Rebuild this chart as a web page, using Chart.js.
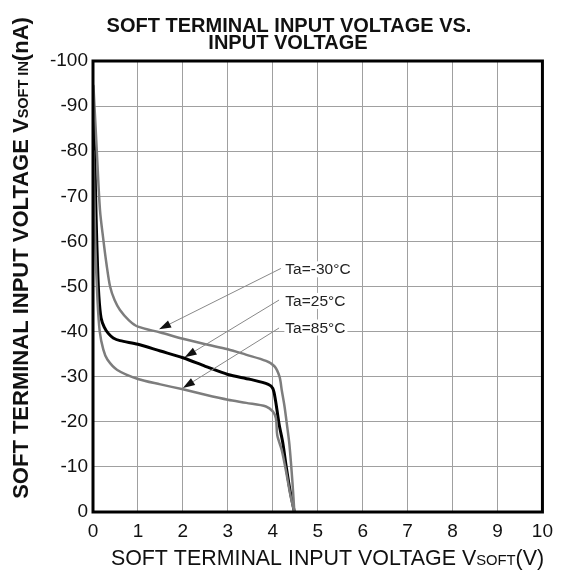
<!DOCTYPE html>
<html>
<head>
<meta charset="utf-8">
<script src="https://cdn.jsdelivr.net/npm/chart.js@4.4.0/dist/chart.umd.min.js"></script>
<style>
html, body { margin: 0; padding: 0; background: #fff; }
#wrap { width: 561px; height: 577px; }
</style>
</head>
<body>
<div id="wrap"><canvas id="softChart" width="561" height="577"></canvas></div>
<script>
// curves (x in V, y in nA)
const coldX = [0.01, 0.08, 0.155, 0.23, 0.3, 0.38, 0.48, 0.6, 0.8, 1.0, 1.5, 2.0, 2.5, 3.0, 3.4, 3.85, 4.04, 4.15, 4.2, 4.26, 4.32, 4.37, 4.44, 4.48]
const coldY = [-94.5, -81, -67, -60.4, -55, -50, -47, -44.8, -42.5, -41.1, -39.8, -38.4, -37.2, -36.1, -34.9, -33.5, -32.3, -30, -27, -23.5, -19, -15, -6.3, 0]

const roomX = [0.01, 0.04, 0.07, 0.1, 0.13, 0.18, 0.25, 0.34, 0.45, 0.6, 1.0, 1.5, 2.0, 2.5, 3.0, 3.5, 3.9, 4.0, 4.06, 4.14, 4.22, 4.3, 4.38, 4.48]
const roomY = [-90, -78, -65, -55, -48, -43, -41, -39.6, -38.6, -38, -37.2, -35.7, -34.2, -32.3, -30.5, -29.4, -28.3, -27.4, -24.8, -19.5, -15.5, -10, -5, 0]

const hotX = [0.01, 0.05, 0.1, 0.15, 0.23, 0.32, 0.54, 1.0, 1.5, 2.0, 2.5, 3.0, 3.41, 3.85, 4.0, 4.07, 4.1, 4.2, 4.29, 4.4, 4.48]
const hotY = [-80, -60, -47, -40, -36, -33.8, -31.5, -29.5, -28.3, -27.2, -26, -24.9, -24.2, -23.4, -22.3, -20.8, -17, -13.7, -9.3, -3.3, 0]

const xTicks = [0, 1, 2, 3, 4, 5, 6, 7, 8, 9, 10]
const yTicks = [-100, -90, -80, -70, -60, -50, -40, -30, -20, -10, 0]

// callouts
const noteLabels = ['Ta=-30°C', 'Ta=25°C', 'Ta=85°C']
const noteX = [4.28, 4.28, 4.28]
const noteY = [-52.7, -45.7, -39.8]
const arrowFromX = [4.18, 4.14, 4.14]
const arrowFromY = [-54.0, -47.0, -40.8]
const arrowToX = [1.47, 2.04, 2.0]
const arrowToY = [-40.5, -34.3, -27.5]

const FONT = '"Liberation Sans", Arial, Helvetica, sans-serif'

const toPoints = (xs, ys) => xs.map((x, i) => ({x: x, y: ys[i]}))

// draw mixed size text along current x direction, returns width
function drawParts(ctx, parts, x, y, measureOnly) {
    let w = 0
    parts.forEach(p => {
        ctx.font = p.font
        if (!measureOnly) ctx.fillText(p.text, x + w, y)
        w += ctx.measureText(p.text).width
    })
    return w
}

const decorations = {
    id: 'decorations',
    afterDatasetsDraw(chart) {
        const ctx = chart.ctx
        const a = chart.chartArea
        const xs = chart.scales.x
        const ys = chart.scales.y
        ctx.save()
        // frame
        ctx.strokeStyle = '#000'
        ctx.lineWidth = 3
        ctx.strokeRect(a.left, a.top, a.right - a.left, a.bottom - a.top)

        // callouts
        ctx.font = '15.5px ' + FONT
        ctx.textBaseline = 'alphabetic'
        noteLabels.forEach((t, i) => {
            const tx = xs.getPixelForValue(noteX[i])
            const ty = ys.getPixelForValue(noteY[i])
            const w = ctx.measureText(t).width
            ctx.fillStyle = '#fff'
            ctx.fillRect(tx - 1, ty - 13, w + 3, 16)
            ctx.fillStyle = '#222'
            ctx.fillText(t, tx, ty)

            const x1 = xs.getPixelForValue(arrowFromX[i])
            const y1 = ys.getPixelForValue(arrowFromY[i])
            const x2 = xs.getPixelForValue(arrowToX[i])
            const y2 = ys.getPixelForValue(arrowToY[i])
            const ang = Math.atan2(y2 - y1, x2 - x1)
            const len = 12, half = 4
            ctx.strokeStyle = '#888'
            ctx.lineWidth = 1
            ctx.beginPath()
            ctx.moveTo(x1, y1)
            ctx.lineTo(x2 - Math.cos(ang) * len, y2 - Math.sin(ang) * len)
            ctx.stroke()
            ctx.fillStyle = '#111'
            ctx.beginPath()
            ctx.moveTo(x2, y2)
            ctx.lineTo(x2 - Math.cos(ang) * len - Math.sin(ang) * half, y2 - Math.sin(ang) * len + Math.cos(ang) * half)
            ctx.lineTo(x2 - Math.cos(ang) * len + Math.sin(ang) * half, y2 - Math.sin(ang) * len - Math.cos(ang) * half)
            ctx.closePath()
            ctx.fill()
        })
        ctx.restore()
    },
    afterDraw(chart) {
        const ctx = chart.ctx
        ctx.save()
        ctx.fillStyle = '#111'
        ctx.textBaseline = 'alphabetic'

        // main title
        ctx.font = 'bold 20px ' + FONT
        ctx.textAlign = 'center'
        ctx.fillText('SOFT TERMINAL INPUT VOLTAGE VS.', 289, 32)
        ctx.fillText('INPUT VOLTAGE', 288, 48.5)
        ctx.textAlign = 'left'

        // x axis title
        const xParts = [
            {text: 'SOFT TERMINAL INPUT VOLTAGE V', font: '21.4px ' + FONT},
            {text: 'SOFT', font: '14.8px ' + FONT},
            {text: '(V)', font: '21.4px ' + FONT}
        ]
        const xw = drawParts(ctx, xParts, 0, 0, true)
        drawParts(ctx, xParts, 327.5 - xw / 2, 565, false)

        // y axis title, rotated
        const yParts = [
            {text: 'SOFT TERMINAL INPUT VOLTAGE V', font: 'bold 22px ' + FONT},
            {text: 'SOFT IN', font: 'bold 14.5px ' + FONT},
            {text: '(nA)', font: 'bold 22px ' + FONT}
        ]
        const yw = drawParts(ctx, yParts, 0, 0, true)
        ctx.translate(28, 258)
        ctx.rotate(-Math.PI / 2)
        drawParts(ctx, yParts, -yw / 2, 0, false)
        ctx.restore()
    }
}

const ctl = document.getElementById('softChart')
new Chart(ctl, {
    type: 'line',
    data: {
        datasets: [
            {
                label: 'Ta=-30°C',
                data: toPoints(coldX, coldY),
                borderColor: '#7d7d7d',
                borderWidth: 2.5
            },
            {
                label: 'Ta=85°C',
                data: toPoints(hotX, hotY),
                borderColor: '#7d7d7d',
                borderWidth: 2.5
            },
            {
                label: 'Ta=25°C',
                data: toPoints(roomX, roomY),
                borderColor: '#000',
                borderWidth: 3
            }
        ]
    },
    options: {
        responsive: false,
        animation: false,
        events: [],
        layout: {
            padding: {top: 61, right: 16, bottom: 0, left: 0}
        },
        elements: {
            point: {radius: 0},
            line: {tension: 0.3, fill: false, borderJoinStyle: 'round', borderCapStyle: 'round'}
        },
        plugins: {
            legend: {display: false},
            title: {display: false},
            tooltip: {enabled: false}
        },
        scales: {
            x: {
                type: 'linear',
                min: 0,
                max: 10,
                afterFit: s => { s.height = 65 },
                afterBuildTicks: s => { s.ticks = xTicks.map(v => ({value: v})) },
                border: {display: false},
                grid: {color: '#a0a0a0', lineWidth: 1, drawTicks: false},
                ticks: {
                    padding: 8,
                    color: '#111',
                    font: {family: FONT, size: 19}
                }
            },
            y: {
                type: 'linear',
                min: -100,
                max: 0,
                reverse: true,
                afterFit: s => { s.width = 93 },
                afterBuildTicks: s => { s.ticks = yTicks.map(v => ({value: v})) },
                border: {display: false},
                grid: {color: '#a0a0a0', lineWidth: 1, drawTicks: false},
                ticks: {
                    padding: 5,
                    color: '#111',
                    font: {family: FONT, size: 19}
                }
            }
        }
    },
    plugins: [decorations]
})
</script>
</body>
</html>
